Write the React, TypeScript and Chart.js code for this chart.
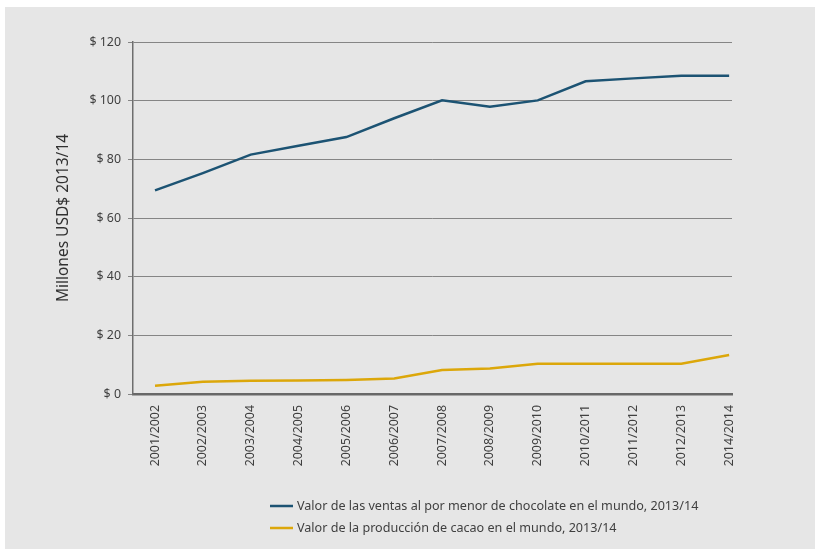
import React, { useEffect, useRef } from "react";
import { Chart, registerables } from "chart.js";

Chart.register(...registerables);

const categories = [
  "2001/2002", "2002/2003", "2003/2004", "2004/2005", "2005/2006", "2006/2007",
  "2007/2008", "2008/2009", "2009/2010", "2010/2011", "2011/2012", "2012/2013", "2014/2014",
];
const ventasChocolate = [69.4, 75.3, 81.6, 84.6, 87.6, 94.0, 100.1, 97.9, 100.1, 106.6, 107.6, 108.5, 108.5];
const produccionCacao = [2.8, 4.2, 4.5, 4.6, 4.8, 5.3, 8.2, 8.7, 10.3, 10.3, 10.3, 10.3, 13.3];
const yTicks = [0, 20, 40, 60, 80, 100, 120];
const seriesLabels = [
  "Valor de las ventas al por menor de chocolate en el mundo, 2013/14",
  "Valor de la producción de cacao en el mundo, 2013/14",
];
const yTitle = "Millones USD$ 2013/14";

const FONT = "'Noto Sans', 'Open Sans', sans-serif";
const BLUE = "#1c5373";
const GOLD = "#dca70a";

export default function App() {
  const ref = useRef<HTMLCanvasElement | null>(null);

  useEffect(() => {
    if (!ref.current) return;
    const bgPlugin = {
      id: "bg",
      beforeDraw(chart: any) {
        const ctx = chart.ctx;
        ctx.save();
        ctx.fillStyle = "#ffffff";
        ctx.fillRect(0, 0, chart.width, chart.height);
        ctx.fillStyle = "#e6e6e6";
        ctx.fillRect(5, 7, chart.width - 5, chart.height - 7);
        ctx.restore();
      },
    };
    const legendPlugin = {
      id: "customLegend",
      afterDraw(chart: any) {
        const ctx = chart.ctx;
        ctx.save();
        chart.data.datasets.forEach((ds: any, i: number) => {
          const y = 506 + i * 22;
          ctx.strokeStyle = ds.borderColor;
          ctx.lineWidth = 2.5;
          ctx.beginPath();
          ctx.moveTo(270, y);
          ctx.lineTo(293, y);
          ctx.stroke();
          ctx.fillStyle = "#404040";
          ctx.font = `12.6px ${FONT}`;
          ctx.textBaseline = "middle";
          ctx.textAlign = "left";
          ctx.fillText(ds.label, 297, y);
        });
        ctx.restore();
      },
    };

    const chart = new Chart(ref.current, {
      type: "line",
      data: {
        datasets: [
          {
            label: seriesLabels[0],
            data: ventasChocolate.map((v, i) => ({ x: i, y: v })),
            borderColor: BLUE,
            backgroundColor: BLUE,
            borderWidth: 2.5,
            pointRadius: 0,
            tension: 0,
          },
          {
            label: seriesLabels[1],
            data: produccionCacao.map((v, i) => ({ x: i, y: v })),
            borderColor: GOLD,
            backgroundColor: GOLD,
            borderWidth: 2.5,
            pointRadius: 0,
            tension: 0,
          },
        ],
      },
      options: {
        animation: false,
        responsive: false,
        maintainAspectRatio: false,
        layout: { padding: { left: 0, right: 83, top: 42, bottom: 0 } },
        plugins: {
          legend: { display: false },
          tooltip: { enabled: false },
        },
        scales: {
          x: {
            type: "linear",
            min: -0.46,
            max: 12.06,
            afterBuildTicks: (scale: any) => {
              scale.ticks = categories.map((_, i) => ({ value: i }));
            },
            afterFit: (scale: any) => {
              scale.height = 549 - 394;
            },
            grid: { display: false, drawTicks: false },
            border: { display: true, color: "#686868", width: 2.5 },
            ticks: {
              autoSkip: false,
              minRotation: 90,
              maxRotation: 90,
              padding: 11,
              color: "#404040",
              font: { family: FONT, size: 12.4 },
              callback: (v: any) => categories[v as number] ?? "",
            },
          },
          y: {
            min: 0,
            max: 120,
            afterBuildTicks: (scale: any) => {
              scale.ticks = yTicks.map((v) => ({ value: v }));
            },
            afterFit: (scale: any) => {
              scale.width = 133;
            },
            grid: {
              color: "#858585",
              lineWidth: 1,
              tickLength: 5,
            },
            border: { display: true, color: "#6e6e6e", width: 1.5 },
            ticks: {
              padding: 7,
              color: "#404040",
              font: { family: FONT, size: 12.4 },
              callback: (v: any) => `$ ${v}`,
            },
            title: {
              display: true,
              text: yTitle,
              color: "#303030",
              font: { family: FONT, size: 15.5 },
              padding: { top: 54, bottom: 0 },
            },
          },
        },
      },
      plugins: [bgPlugin, legendPlugin],
    } as any);
    return () => chart.destroy();
  }, []);

  return (
    <div style={{ position: "absolute", left: 0, top: 0, width: 815, height: 549 }}>
      <canvas ref={ref} width={815} height={549} style={{ width: 815, height: 549, display: "block" }} />
    </div>
  );
}
